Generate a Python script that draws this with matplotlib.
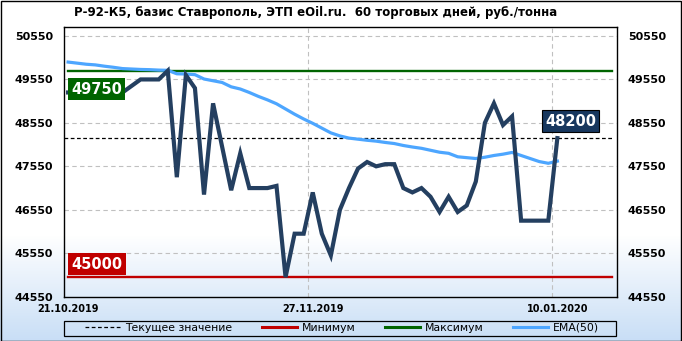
import matplotlib
matplotlib.use('Agg')
import matplotlib.pyplot as plt
import numpy as np
from matplotlib.lines import Line2D
from matplotlib.patches import Rectangle

title = 'Р-92-К5, базис Ставрополь, ЭТП eOil.ru.  60 торговых дней, руб./тонна'

# daily price, rub/t
price = [49250, 49250, 49250, 49250, 49250, 49250, 49250, 49400, 49550, 49550,
         49550, 49750, 47300, 49650, 49350, 46900, 49000, 48000, 47000, 47850,
         47050, 47050, 47050, 47100, 45000, 46000, 46000, 46950, 46000, 45500,
         46550, 47050, 47500, 47650, 47550, 47600, 47600, 47050, 46950, 47050,
         46850, 46500, 46850, 46500, 46650, 47200, 48550, 49000, 48500, 48700,
         46300, 46300, 46300, 46300, 48200]

ema50 = [49950, 49925, 49900, 49885, 49855, 49830, 49800, 49790, 49780, 49775,
         49765, 49760, 49680, 49675, 49660, 49560, 49520, 49480, 49380, 49330,
         49250, 49160, 49080, 48990, 48870, 48750, 48640, 48540, 48430, 48320,
         48250, 48200, 48175, 48150, 48130, 48100, 48075, 48030, 47995, 47965,
         47920, 47875, 47850, 47770, 47750, 47730, 47760, 47800, 47830, 47870,
         47800, 47730, 47660, 47620, 47670]

date_labels = ['21.10.2019', '27.11.2019', '10.01.2020']
date_idx = [0, 27, 54]
y_ticks = [44550, 45550, 46550, 47550, 48550, 49550, 50550]
legend_labels = ['Текущее значение', 'Минимум', 'Максимум', 'EMA(50)']

current = price[-1]
p_min = min(price)
p_max = max(price)

W, H = 682, 341
C_PRICE = '#243f60'
C_EMA = '#4da6ff'
C_MAX = '#006400'
C_MIN = '#c00000'
C_CUR = '#17375e'

fig = plt.figure(figsize=(W / 100, H / 100), dpi=100)

# background: white fading into light blue towards the bottom
bg = fig.add_axes([0, 0, 1, 1], zorder=-10)
rows = np.arange(H)
t = np.clip((rows - 235) / (H - 235), 0, 1)[:, None]
top_c = np.array([1.0, 1.0, 1.0])
bot_c = np.array([200, 222, 246]) / 255
grad = (1 - t) * top_c + t * bot_c
bg.imshow(np.repeat(grad[:, None, :], 2, axis=1), aspect='auto',
          extent=[0, 1, 0, 1])
bg.set_axis_off()
fig.patches.append(Rectangle((0.5 / W, 0.5 / H), 1 - 1.5 / W, 1 - 1.5 / H,
                             transform=fig.transFigure, fill=False,
                             edgecolor='black', lw=1))

ax_l, ax_r, ax_t, ax_b = 64.3, 616.7, 27.3, 296.7
ax = fig.add_axes([ax_l / W, 1 - ax_b / H, (ax_r - ax_l) / W, (ax_b - ax_t) / H])
ax.set_facecolor('none')

x = np.arange(len(price))
x_end = 60
ax.set_xlim(-0.42, 60.55)
ax.set_ylim(44550, 50750)

# grid
for yv in y_ticks[1:]:
    ax.axhline(yv, color='#c0c0c0', lw=0.8, ls=(0, (4, 3)), zorder=1)
for xv in date_idx[1:]:
    ax.axvline(xv - 0.55, color='#c0c0c0', lw=0.8, ls=(0, (4, 3)), zorder=1)

ax.plot([0, x_end], [p_max, p_max], color=C_MAX, lw=1.7, zorder=2)
ax.plot([0, x_end], [p_min, p_min], color=C_MIN, lw=1.7, zorder=2)
ax.plot([-0.42, x_end], [current, current], color='black', lw=0.9,
        ls=(0, (3, 2)), zorder=2)
ax.plot(x, ema50, color=C_EMA, lw=2.3, zorder=3)
ax.plot(x, price, color=C_PRICE, lw=3.0, zorder=4, solid_joinstyle='miter')

# value labels
box_kw = dict(color='white', fontsize=10.5, fontweight='bold',
              family='DejaVu Sans', zorder=6)
ax.text(0.35, p_max - 420, f'{p_max}', ha='left', va='center',
        bbox=dict(boxstyle='square,pad=0.22', fc=C_MAX, ec='none'), **box_kw)
ax.text(0.35, p_min + 300, f'{p_min}', ha='left', va='center',
        bbox=dict(boxstyle='square,pad=0.22', fc=C_MIN, ec='none'), **box_kw)
ax.text(len(price) - 1 + 1.45, current + 390, f'{current}', ha='center',
        va='center', bbox=dict(boxstyle='square,pad=0.22', fc=C_CUR,
                               ec='black', lw=0.8), **box_kw)

# axes, ticks
for s in ax.spines.values():
    s.set_color('black')
    s.set_linewidth(1)
ax.set_yticks(y_ticks)
ax.set_yticklabels([str(v) for v in y_ticks])
ax.tick_params(axis='y', length=0, pad=8, labelsize=8, left=True, right=True,
               labelleft=True, labelright=True)
ax.set_xticks(date_idx)
ax.set_xticklabels(date_labels)
ax.tick_params(axis='x', length=0, pad=5, labelsize=7)
for lab in ax.get_xticklabels() + ax.get_yticklabels():
    lab.set_fontweight('bold')

fig.text(316 / W, 1 - 12.7 / H, title, ha='center', va='center',
         fontsize=8.5, fontweight='bold')

# legend in its own frame below the plot
fig.patches.append(Rectangle((64 / W, 1 - 335.5 / H), 552 / W, 15 / H,
                             transform=fig.transFigure, fill=False,
                             edgecolor='black', lw=0.9))
handles = [Line2D([], [], color='black', lw=0.9, ls=(0, (3, 2))),
           Line2D([], [], color=C_MIN, lw=2.2),
           Line2D([], [], color=C_MAX, lw=2.2),
           Line2D([], [], color=C_EMA, lw=2.2)]
fig.legend(handles, legend_labels, ncol=4, frameon=False, loc='center',
           bbox_to_anchor=(342 / W, 1 - 328 / H), fontsize=7.8,
           handlelength=3.3, handletextpad=0.4, columnspacing=2.7,
           borderpad=0, borderaxespad=0)

fig.savefig('out.png', dpi=100)
